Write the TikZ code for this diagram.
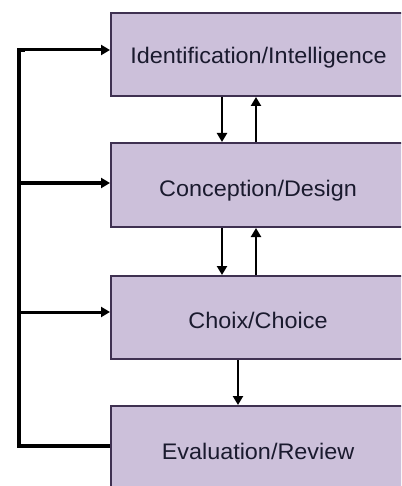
\documentclass[tikz,border=0pt]{standalone}
\usepackage{fontspec}
\setmainfont{Liberation Sans}
\usetikzlibrary{arrows.meta}
\definecolor{boxfill}{HTML}{CCC0DA}
\definecolor{boxdraw}{HTML}{3F3151}
\definecolor{txt}{HTML}{1A1A2E}
\begin{document}
\begin{tikzpicture}[x=1pt,y=-1pt,
  stage/.style={draw=boxdraw,fill=boxfill,line width=2pt,inner sep=0pt,anchor=north west},
  lbl/.style={font=\fontsize{22.5}{26}\selectfont,text=txt,anchor=base,inner sep=0pt},
  arr/.style={line width=2.6pt,-{Triangle[length=9pt,width=10pt]}},
  bus/.style={line width=3.8pt}]
\useasboundingbox (0,0) rectangle (401,486);
\clip (0,0) rectangle (401,486);
\node[stage,minimum width=296pt,minimum height=83pt] (b1) at (110,12) {};
\node[stage,minimum width=296pt,minimum height=84pt] (b2) at (110,142) {};
\node[stage,minimum width=296pt,minimum height=83pt] (b3) at (110,275) {};
\node[stage,minimum width=296pt,minimum height=100pt] (b4) at (110,405) {};
\node[lbl] (t1) at (258.5,64) {\scalebox{1.04}[1]{Identification/Intelligence}};
\node[lbl] (t2) at (258,196.5) {\scalebox{1.04}[1]{Conception/Design}};
\node[lbl] (t3) at (258,328) {\scalebox{1.04}[1]{Choix/Choice}};
\node[lbl] (t4) at (258,459) {\scalebox{1.04}[1]{Evaluation/Review}};
\coordinate (xd) at (222,0);
\coordinate (xu) at (256,0);
\coordinate (xm) at (238,0);
\draw[arr] (b1.south -| xd) -- (b2.north -| xd);
\draw[arr] (b2.north -| xu) -- (b1.south -| xu);
\draw[arr] (b2.south -| xd) -- (b3.north -| xd);
\draw[arr] (b3.north -| xu) -- (b2.south -| xu);
\draw[arr] (b3.south -| xm) -- (b4.north -| xm);
\coordinate (bl) at (19,446);
\coordinate (tl) at (19,50);
\coordinate (m2) at (19,183);
\coordinate (m3) at (19,312);
\draw[bus,line join=miter] (b4.west |- bl) -- (bl) -- (tl) -- ++(6,0);
\draw[arr,line width=3pt] (tl) -- (b1.west |- tl);
\draw[arr,line width=3pt] (m2) -- (b2.west |- m2);
\draw[arr,line width=3pt] (m3) -- (b3.west |- m3);
\end{tikzpicture}
\end{document}
